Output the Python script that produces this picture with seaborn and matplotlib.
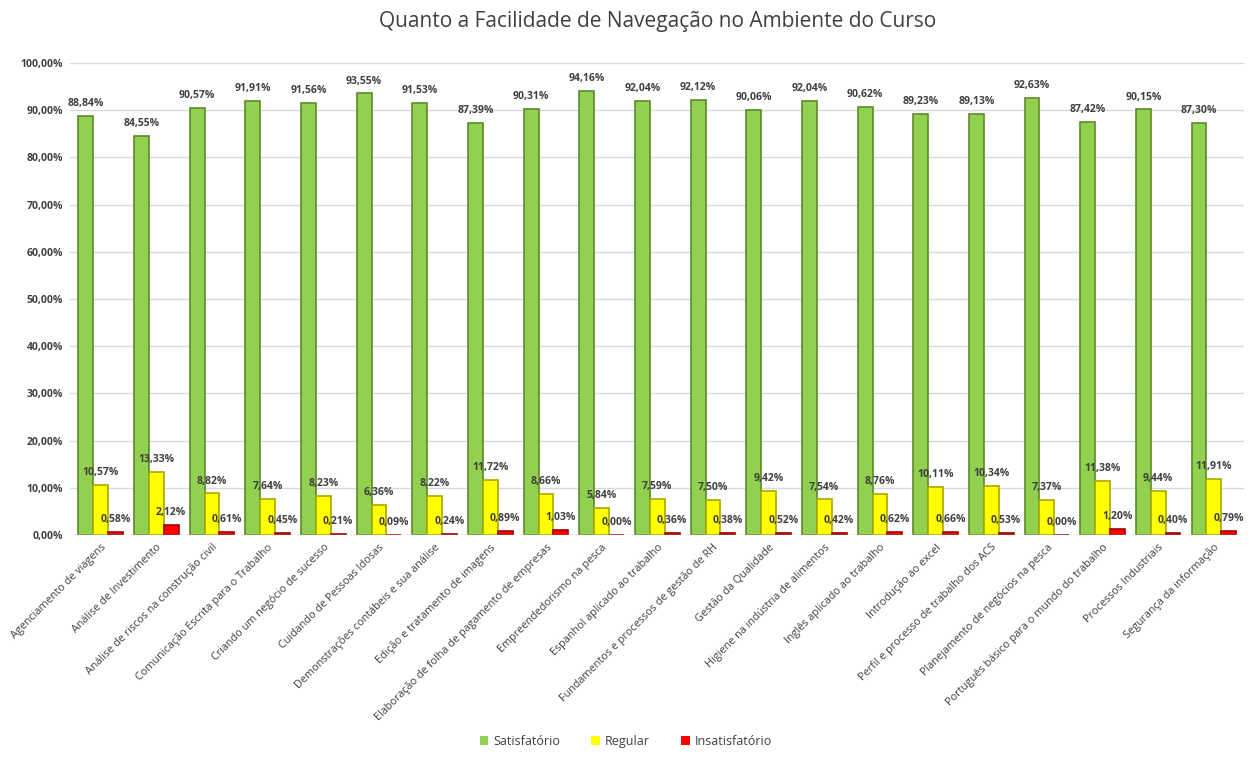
import numpy as np
import pandas as pd
import matplotlib
matplotlib.use("Agg")
import matplotlib.pyplot as plt
import seaborn as sns

cursos = ["Agenciamento de viagens", "Análise de Investimento", "Análise de riscos na construção civil",
          "Comunicação Escrita para o Trabalho", "Criando um negócio de sucesso", "Cuidando de Pessoas Idosas",
          "Demonstrações contábeis e sua análise", "Edição e tratamento de imagens",
          "Elaboração de folha de pagamento de empresas", "Empreendedorismo na pesca",
          "Espanhol aplicado ao trabalho", "Fundamentos e processos de gestão de RH", "Gestão da Qualidade",
          "Higiene na indústria de alimentos", "Inglês aplicado ao trabalho", "Introdução ao excel",
          "Perfil e processo de trabalho dos ACS", "Planejamento de negócios na pesca",
          "Português básico para o mundo do trabalho", "Processos Industriais", "Segurança da informação"]

satisfatorio = [88.84, 84.55, 90.57, 91.91, 91.56, 93.55, 91.53, 87.39, 90.31, 94.16, 92.04,
                92.12, 90.06, 92.04, 90.62, 89.23, 89.13, 92.63, 87.42, 90.15, 87.30]
regular = [10.57, 13.33, 8.82, 7.64, 8.23, 6.36, 8.22, 11.72, 8.66, 5.84, 7.59,
           7.50, 9.42, 7.54, 8.76, 10.11, 10.34, 7.37, 11.38, 9.44, 11.91]
insatisfatorio = [0.58, 2.12, 0.61, 0.45, 0.21, 0.09, 0.24, 0.89, 1.03, 0.00, 0.36,
                  0.38, 0.52, 0.42, 0.62, 0.66, 0.53, 0.00, 1.20, 0.40, 0.79]

series = ["Satisfatório", "Regular", "Insatisfatório"]
cores = ["#92D050", "#FFFF00", "#FF0000"]
bordas = ["#5E8A2A", "#A8A800", "#A00000"]

df = pd.DataFrame({"Curso": cursos, "Satisfatório": satisfatorio,
                   "Regular": regular, "Insatisfatório": insatisfatorio})
df = df.melt(id_vars="Curso", var_name="Avaliação", value_name="Valor")

sns.set_style("white")
plt.rcParams['font.family'] = ['Open Sans', 'DejaVu Sans']

fig = plt.figure(figsize=(12.52, 7.59), dpi=100)
ax = fig.add_axes([0.056, 0.295, 0.938, 0.622])

sns.barplot(data=df, x="Curso", y="Valor", hue="Avaliação", hue_order=series,
            palette=cores, saturation=1, width=0.8, ax=ax, legend=False)

for cont, borda in zip(ax.containers, bordas):
    for p in cont:
        p.set_edgecolor(borda)
        p.set_linewidth(1.2)
    labels = [("%.2f%%" % p.get_height()).replace(".", ",") for p in cont]
    ax.bar_label(cont, labels=labels, padding=5, fontsize=7.5, fontweight="bold", color="#404040")

ax.set_ylim(0, 100)
ax.set_yticks(np.arange(0, 101, 10))
ax.set_yticklabels([("%.2f%%" % v).replace(".", ",") for v in np.arange(0, 101, 10)],
                   fontsize=7.5, fontweight="bold", color="#404040")
ax.yaxis.grid(True, color="#D9D9D9", linewidth=1)
ax.set_axisbelow(True)
ax.set_xlim(-0.55, len(cursos) - 0.45)
ax.set_xticks(range(len(cursos)))
ax.set_xticklabels(cursos, rotation=45, ha="right", rotation_mode="anchor",
                   fontsize=7.8, color="#404040")
ax.tick_params(axis="both", length=0, pad=5)
ax.set_xlabel("")
ax.set_ylabel("")
for s in ax.spines.values():
    s.set_visible(False)
ax.axhline(0, color="#D9D9D9", linewidth=1)

ax.set_title("Quanto a Facilidade de Navegação no Ambiente do Curso", fontsize=15,
             color="#404040", pad=26)

handles = [plt.Rectangle((0, 0), 1, 1, facecolor=c, edgecolor="none") for c in cores]
fig.legend(handles, series, loc="lower center", ncol=3, frameon=False, fontsize=9,
           bbox_to_anchor=(0.5, 0.0), handlelength=0.7, handleheight=0.7,
           columnspacing=2.5, handletextpad=0.4, labelcolor="#404040")

fig.savefig("out.png", dpi=100)
